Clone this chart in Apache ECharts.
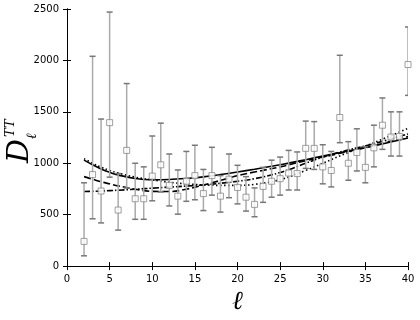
<!DOCTYPE html>
<html>
<head>
<meta charset="utf-8">
<script src="https://cdn.jsdelivr.net/npm/echarts@6/dist/echarts.min.js"></script>
<style>
  html, body { margin: 0; padding: 0; background: #fff; }
  #chart { width: 420px; height: 320px; }
</style>
</head>
<body>
<div id="chart"></div>
<script>
// measured band powers with error bars
var ell    = [2, 3, 4, 5, 6, 7, 8, 9, 10, 11, 12, 13, 14, 15, 16, 17, 18, 19, 20, 21,
              22, 23, 24, 25, 26, 27, 28, 29, 30, 31, 32, 33, 34, 35, 36, 37, 38, 39, 40];
var dl     = [240, 890, 730, 1395, 545, 1125, 655, 655, 875, 985, 785, 680, 825, 880, 705, 880, 680, 845, 765, 670,
              600, 775, 825, 850, 905, 900, 1145, 1145, 965, 930, 1445, 1000, 1105, 960, 1150, 1370, 1255, 1260, 1960];
var errLow = [100, 460, 420, 865, 350, 760, 455, 455, 635, 720, 585, 505, 630, 645, 540, 690, 525, 665, 605, 535,
              480, 620, 670, 690, 740, 740, 950, 940, 800, 770, 1200, 835, 925, 810, 965, 1135, 1070, 1070, 1660];
var errHigh = [810, 2040, 1430, 2470, 900, 1775, 1000, 965, 1265, 1390, 1090, 935, 1115, 1175, 940, 1155, 880, 1090, 980, 870,
              760, 960, 1030, 1060, 1125, 1110, 1410, 1405, 1180, 1115, 2050, 1210, 1335, 1160, 1370, 1635, 1500, 1500, 2325];

// model curves
var modelEll = [2, 3, 4, 5, 6, 8, 10, 12, 14, 16, 18, 20, 22, 25, 28, 30, 33, 36, 40];
var solid    = [1030, 985, 945, 912, 885, 852, 840, 842, 852, 868, 890, 915, 942, 985, 1035, 1070, 1120, 1170, 1245];
var dashed   = [870, 845, 820, 800, 780, 748, 727, 725, 748, 788, 833, 880, 915, 965, 1025, 1060, 1115, 1170, 1260];
var dashDot  = [725, 727, 730, 734, 738, 748, 758, 768, 778, 790, 805, 825, 850, 910, 1000, 1060, 1130, 1190, 1285];
var dotted   = [1045, 1000, 962, 930, 905, 865, 838, 815, 800, 790, 785, 785, 795, 840, 930, 1000, 1105, 1200, 1340];

var xTicks = [0, 40, 5];
var yTicks = [0, 2500, 500];

function pairs(xs, ys) {
  var out = [];
  for (var i = 0; i < xs.length; i++) out.push([xs[i], ys[i]]);
  return out;
}

var errData = [];
for (var i = 0; i < ell.length; i++) errData.push([ell[i], errLow[i], errHigh[i]]);

function modelLine(name, vals, dash) {
  return {
    name: name,
    type: 'line',
    data: pairs(modelEll, vals),
    smooth: 0.4,
    showSymbol: false,
    symbol: 'none',
    z: 3,
    lineStyle: { color: '#000', width: 1.6, type: dash }
  };
}

var myChart = echarts.init(document.getElementById('chart'));
var axisFont = { color: '#000', fontSize: 10, fontFamily: 'DejaVu Sans', formatter: function (v) { return String(v); } };
var tickIn = { show: true, inside: true, length: 4, lineStyle: { color: '#000' } };
var lineBlack = { show: true, lineStyle: { color: '#000', width: 1 } };

var option = {
  animation: false,
  backgroundColor: '#fff',
  grid: { left: 67, right: 12, top: 9, bottom: 48 },
  xAxis: [{
    type: 'value', min: xTicks[0], max: xTicks[1], interval: xTicks[2],
    axisLine: lineBlack, axisTick: tickIn, splitLine: { show: false },
    axisLabel: axisFont,
    name: 'ℓ', nameLocation: 'middle', nameGap: 12,
    nameTextStyle: { fontSize: 26, fontStyle: 'italic', fontFamily: 'DejaVu Serif', color: '#000' }
  }, {
    type: 'value', position: 'top', min: xTicks[0], max: xTicks[1], interval: xTicks[2],
    axisLine: lineBlack, axisTick: tickIn, axisLabel: { show: false }, splitLine: { show: false }
  }],
  yAxis: [{
    type: 'value', min: yTicks[0], max: yTicks[1], interval: yTicks[2],
    axisLine: lineBlack, axisTick: tickIn, splitLine: { show: false },
    axisLabel: axisFont
  }, {
    type: 'value', position: 'right', min: yTicks[0], max: yTicks[1], interval: yTicks[2],
    z: 10,
    axisLine: lineBlack, axisTick: tickIn, axisLabel: { show: false }, splitLine: { show: false }
  }],
  graphic: [{
    type: 'group', x: 31, y: 163, rotation: Math.PI / 2,
    children: [
      { type: 'text', x: 0, y: -11, style: { text: 'D', font: 'italic 30px "DejaVu Serif"', fill: '#000', verticalAlign: 'middle' } },
      { type: 'text', x: 26, y: -20, style: { text: 'TT', font: 'italic 13px "DejaVu Serif"', fill: '#000', verticalAlign: 'middle' } },
      { type: 'text', x: 24, y: 1, style: { text: 'ℓ', font: 'italic 14px "DejaVu Serif"', fill: '#000', verticalAlign: 'middle' } }
    ]
  }],
  series: [
    modelLine('solid', solid, 'solid'),
    modelLine('dashed', dashed, [7, 3]),
    modelLine('dashdot', dashDot, [6, 2, 1.5, 2]),
    modelLine('dotted', dotted, [1.5, 2.5]),
    {
      type: 'custom',
      clip: true,
      z: 4,
      data: errData,
      renderItem: function (params, api) {
        var x = api.value(0);
        var lo = api.coord([x, api.value(1)]);
        var hi = api.coord([x, api.value(2)]);
        var cw = 3;
        return {
          type: 'group',
          children: [
            { type: 'line', shape: { x1: lo[0], y1: lo[1], x2: hi[0], y2: hi[1] }, style: { stroke: '#aaaaaa', lineWidth: 1.5 } },
            { type: 'line', shape: { x1: lo[0] - cw, y1: lo[1], x2: lo[0] + cw, y2: lo[1] }, style: { stroke: '#777777', lineWidth: 1.5 } },
            { type: 'line', shape: { x1: hi[0] - cw, y1: hi[1], x2: hi[0] + cw, y2: hi[1] }, style: { stroke: '#777777', lineWidth: 1.5 } }
          ]
        };
      }
    },
    {
      type: 'scatter',
      data: pairs(ell, dl),
      symbol: 'rect',
      symbolSize: 6,
      z: 5,
      clip: true,
      itemStyle: { color: '#fff', borderColor: '#888', borderWidth: 1 }
    }
  ]
};
myChart.setOption(option);
</script>
</body>
</html>
